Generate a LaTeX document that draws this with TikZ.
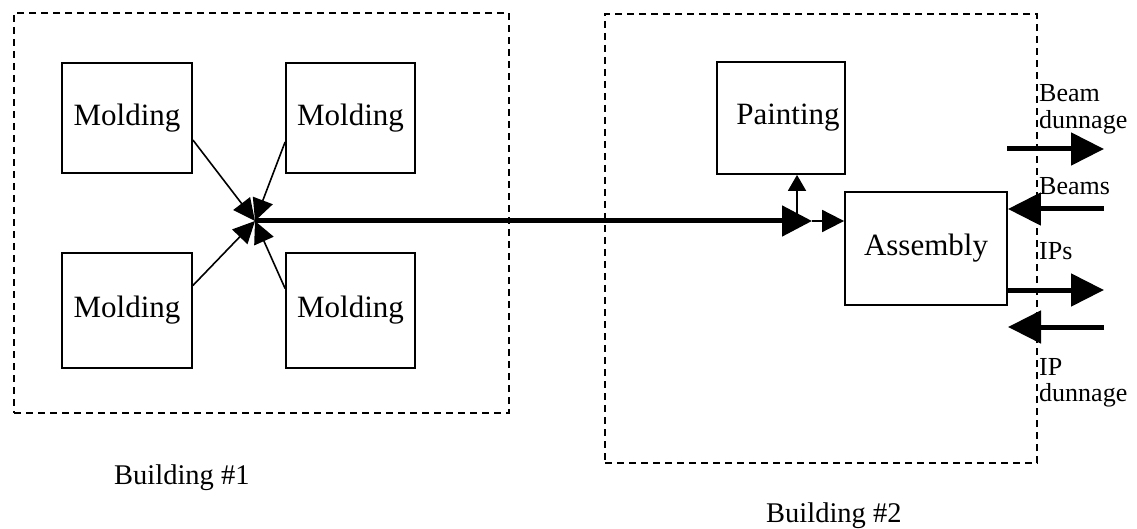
\documentclass[tikz,border=0pt]{standalone}
\usepackage{fontspec}
\setmainfont{Liberation Serif}
\usetikzlibrary{arrows.meta}

\begin{document}
\begin{tikzpicture}[x=1pt,y=-1pt,
  every node/.style={font=\fontsize{31}{35}\selectfont},
  zone/.style={draw, line width=1.5pt, dash pattern=on 7pt off 5pt, inner sep=0pt},
  stage/.style={draw, line width=1.8pt, inner sep=0pt},
  lbl/.style={font=\fontsize{26}{29}\selectfont, inner sep=0pt, anchor=base west},
  caption/.style={font=\fontsize{28.5}{32}\selectfont, inner sep=0pt, anchor=base west},
  feed/.style={line width=1.6pt, -{Triangle[length=22pt,width=21pt]}},
  trunk/.style={line width=5pt, -{Triangle[length=30pt,width=30pt]}},
  tap/.style={line width=1.8pt, -{Triangle[length=22pt,width=22pt]}},
  lift/.style={line width=1.8pt, -{Triangle[length=16pt,width=18pt]}},
  ship/.style={line width=5pt, -{Triangle[length=33pt,width=32pt]}}
]
\useasboundingbox (0,0) rectangle (1137,529);

% building outlines
\node[zone, minimum width=495pt, minimum height=400pt] (b1) at (261.5,213) {};
\node[zone, minimum width=432pt, minimum height=449pt] (b2) at (821,238.5) {};

% molding cells
\node[stage, minimum width=130pt, minimum height=110pt] (m1) at (127,118) {\raisebox{-4pt}{Molding}};
\node[stage, minimum width=129pt, minimum height=110pt] (m2) at (350.5,118) {\raisebox{-4pt}{Molding}};
\node[stage, minimum width=130pt, minimum height=115pt] (m3) at (127,310.5) {\raisebox{-3pt}{Molding}};
\node[stage, minimum width=129pt, minimum height=115pt] (m4) at (350.5,310.5) {\raisebox{-3pt}{Molding}};

% painting and assembly
\node[stage, minimum width=128pt, minimum height=112pt] (p) at (781,118) {\hspace*{14pt}\raisebox{-3pt}{Painting}};
\node[stage, minimum width=162pt, minimum height=113pt] (a) at (926,248.5) {\raisebox{-10pt}{Assembly}};

% collection point between the molding cells
\coordinate (hub) at (255,221);
\draw[feed] ([yshift=-22pt]m1.east) -- (hub);
\draw[feed] ([yshift=-24pt]m2.west) -- (hub);
\draw[feed] ([yshift=25pt]m3.east) -- (hub);
\draw[feed] ([yshift=22pt]m4.west) -- (hub);

% transfer to building #2
\coordinate (split) at (812,221);
\coordinate (up) at (797,221);
\draw[trunk] (hub) -- (split);
\draw[tap] (split) -- (a.west |- split);
\draw[lift] (up) -- (up |- p.south);

% shipping flows
\coordinate (bdS) at (1007,149);
\coordinate (bdE) at (1104,149);
\coordinate (bmS) at (1104,209);
\coordinate (ipS) at (a.east |- 0,290);
\coordinate (ipE) at (1104,290);
\coordinate (idS) at (1104,327);
\coordinate (idE) at (1008,327);
\draw[ship] (bdS) -- (bdE);
\draw[ship] (bmS) -- (a.east |- bmS);
\draw[ship] (ipS) -- (ipE);
\draw[ship] (idS) -- (idE);

% flow labels
\node[lbl] (t1) at (1039,102) {Beam};
\node[lbl] (t2) at (1039,129) {dunnage};
\node[lbl] (t3) at (1039,195) {Beams};
\node[lbl] (t4) at (1039,260) {IPs};
\node[lbl] (t5) at (1039,375) {IP};
\node[lbl] (t6) at (1039,401) {dunnage};

% building captions
\node[caption] (c1) at (114,484) {Building \#1};
\node[caption] (c2) at (766,522) {Building \#2};
\end{tikzpicture}
\end{document}
